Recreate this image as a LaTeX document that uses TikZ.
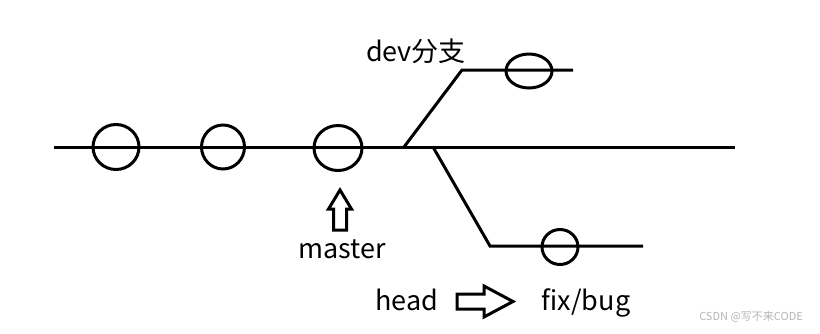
\documentclass[tikz,border=0pt]{standalone}
\usepackage{fontspec}
\setmainfont{Noto Sans CJK SC}
\usepackage{tikz}
\usetikzlibrary{shapes.geometric}
\definecolor{GitMark}{HTML}{B4B4B4}

\tikzset{
  branch/.style={line width=3pt,line cap=butt},
  commit/.style={ellipse,draw,line width=3pt,inner sep=0pt,fill=none},
  hollow/.style={draw,line width=3pt,line join=miter,fill=white},
  lbl/.style={anchor=base,inner sep=0pt,font=\fontsize{27}{30}\selectfont}
}

\begin{document}
\begin{tikzpicture}[x=1pt,y=-1pt]
\path[use as bounding box] (0,0) rectangle (820,333);
% branch lines
\coordinate (mstart) at (54,147);
\coordinate (mend) at (735,147);
\coordinate (devfork) at (404,147);
\coordinate (devbend) at (462,70);
\coordinate (devend) at (573,70);
\coordinate (fixfork) at (433,147);
\coordinate (fixbend) at (490,246);
\coordinate (fixend) at (643,246);
\draw[branch] (mstart) -- (mend);
\draw[branch,line join=miter] (devfork) -- (devbend) -- (devend);
\draw[branch,line join=miter] (fixfork) -- (fixbend) -- (fixend);
% commits
\node[commit,minimum width=46pt,minimum height=45pt] (c1) at (116,147) {};
\node[commit,minimum width=43pt,minimum height=44pt] (c2) at (223,147) {};
\node[commit,minimum width=48pt,minimum height=45pt] (c3) at (338,148) {};
\node[commit,minimum width=46pt,minimum height=34pt] (dev1) at (529,71) {};
\node[commit,minimum width=36pt,minimum height=35pt] (fix1) at (560,247) {};
% arrows
\draw[hollow] (340,190) -- (351.5,209) -- (346.5,209) -- (346.5,230)
  -- (333.5,230) -- (333.5,209) -- (328.5,209) -- cycle;
\draw[hollow] (457,294) -- (484,294) -- (484,286) -- (513,301.5)
  -- (484,317) -- (484,309) -- (457,309) -- cycle;
% labels
\node[lbl] (devlbl) at (416,61) {dev分支};
\node[lbl] (master) at (342,258) {master};
\node[lbl] (head) at (407,310) {head};
\node[lbl] (fixbug) at (586,310) {fix/bug};
\node[anchor=east,inner sep=0pt,text=GitMark,font=\fontsize{11}{12}\selectfont] (mark) at (803,317) {CSDN @写不来CODE};
\end{tikzpicture}
\end{document}
